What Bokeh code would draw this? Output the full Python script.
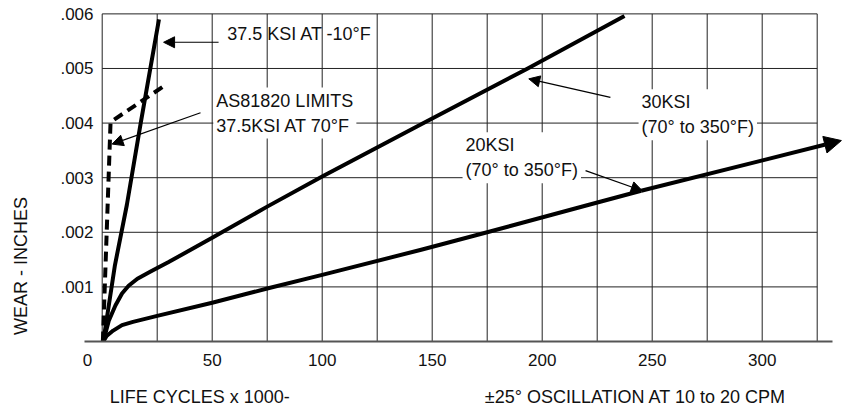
from bokeh.plotting import figure
from bokeh.models import Range1d, FixedTicker, Label, Arrow, NormalHead
from bokeh.embed import file_html
from bokeh.resources import INLINE

# ---------------- data ----------------
# x axis: life cycles x 1000 ; y axis: wear in inches
x_tick_values = [0, 50, 100, 150, 200, 250, 300]
x_tick_labels = ["0", "50", "100", "150", "200", "250", "300"]
y_tick_values = [0.001, 0.002, 0.003, 0.004, 0.005, 0.006]
y_tick_labels = [".001", ".002", ".003", ".004", ".005", ".006"]

grid_x = [0, 25, 50, 75, 100, 125, 150, 175, 200, 225, 250, 275, 300, 325]
grid_y = [0.001, 0.002, 0.003, 0.004, 0.005, 0.006]

# 37.5 KSI AT -10F (steep solid line)
ksi375_cold_x = [0.5, 5.8, 11.2, 17.5, 25.8]
ksi375_cold_y = [0.0, 0.0014, 0.0025, 0.0040, 0.0059]

# AS81820 limits, 37.5 KSI at 70F (dashed)
limits_x = [0.3, 3.8, 27.4]
limits_y = [0.0, 0.00402, 0.00466]

# 30 KSI (70 to 350F)
ksi30_x = [0.5, 3, 6, 9, 12, 16, 22, 30, 50, 75, 100, 145, 193, 237.4]
ksi30_y = [0.0, 0.00038, 0.00066, 0.00088, 0.00102, 0.00115, 0.00128, 0.00145,
           0.0019, 0.00247, 0.00302, 0.00398, 0.00499, 0.00596]

# 20 KSI (70 to 350F) - last point is the arrow tip
ksi20_x = [0.5, 2, 5, 9, 14, 25, 50, 75, 100, 145, 175, 220, 245, 336]
ksi20_y = [0.0, 0.0001, 0.0002, 0.0003, 0.00036, 0.00047, 0.00071, 0.00097,
           0.00122, 0.00168, 0.0020, 0.00249, 0.00276, 0.00368]

y_title = "WEAR - INCHES"
x_title_left = "LIFE CYCLES x 1000-"
x_title_right = "\u00b125\u00b0 OSCILLATION AT 10 to 20 CPM"

FONT = "Liberation Sans"
INK = "#111111"
NBSP = "\u00a0"

p = figure(width=842, height=410,
           x_range=Range1d(-8.5, 336.5), y_range=Range1d(0, 0.006245),
           output_backend="svg", toolbar_location=None,
           min_border_left=83, min_border_right=0, min_border_top=0,
           min_border_bottom=69)
p.outline_line_color = None
p.xgrid.visible = False
p.ygrid.visible = False
p.background_fill_color = "white"
p.border_fill_color = "white"

# ---- axes ----
zero_shift = -6.7   # the "0" label sits left of the origin in the original
x_tick_pos = [zero_shift if v == 0 else v for v in x_tick_values]
p.xaxis.ticker = FixedTicker(ticks=x_tick_pos)
p.xaxis.major_label_overrides = {pos: lab for pos, lab in zip(x_tick_pos, x_tick_labels)}
p.xaxis.bounds = (-8, 332)
p.xaxis.axis_line_color = "#555555"
p.xaxis.axis_line_width = 2
p.xaxis.major_tick_line_color = None
p.xaxis.minor_tick_line_color = None
p.xaxis.major_tick_out = 0
p.xaxis.major_tick_in = 0
p.xaxis.major_label_standoff = 12
p.xaxis.major_label_text_font = FONT
p.xaxis.major_label_text_font_size = "17px"
p.xaxis.major_label_text_color = INK
# two captions under the axis, spaced as in the original
p.xaxis.axis_label = x_title_left + NBSP * 39 + x_title_right + NBSP * 6
p.xaxis.axis_label_standoff = 18
p.xaxis.axis_label_text_font = FONT
p.xaxis.axis_label_text_font_size = "18px"
p.xaxis.axis_label_text_font_style = "normal"
p.xaxis.axis_label_text_color = INK

p.yaxis.ticker = FixedTicker(ticks=y_tick_values)
p.yaxis.major_label_overrides = {v: lab for v, lab in zip(y_tick_values, y_tick_labels)}
p.yaxis.axis_line_color = None
p.yaxis.major_tick_line_color = None
p.yaxis.minor_tick_line_color = None
p.yaxis.major_tick_out = 0
p.yaxis.major_tick_in = 0
p.yaxis.major_label_standoff = -10
p.yaxis.major_label_text_font = FONT
p.yaxis.major_label_text_font_size = "17px"
p.yaxis.major_label_text_color = INK
# the y caption sits low on the axis in the original
p.yaxis.axis_label = y_title + NBSP * 38
p.yaxis.axis_label_standoff = 26
p.yaxis.axis_label_text_font = FONT
p.yaxis.axis_label_text_font_size = "18px"
p.yaxis.axis_label_text_font_style = "normal"
p.yaxis.axis_label_text_color = INK

# ---- grid (bounded box) ----
p.segment(x0=grid_x, y0=[0] * len(grid_x), x1=grid_x, y1=[grid_y[-1]] * len(grid_x),
          line_color="#222222", line_width=1)
p.segment(x0=[grid_x[0]] * len(grid_y), y0=grid_y, x1=[grid_x[-1]] * len(grid_y), y1=grid_y,
          line_color="#222222", line_width=1)

# ---- curves ----
p.line(ksi375_cold_x, ksi375_cold_y, line_color="black", line_width=4, line_join="round")
p.line(limits_x, limits_y, line_color="black", line_width=4, line_dash="10 6")
p.line(ksi30_x, ksi30_y, line_color="black", line_width=4, line_join="round")
p.line(ksi20_x[:-1], ksi20_y[:-1], line_color="black", line_width=4, line_join="round")
p.add_layout(Arrow(end=NormalHead(size=17, fill_color="black", line_color="black"),
                   x_start=ksi20_x[-2], y_start=ksi20_y[-2],
                   x_end=ksi20_x[-1], y_end=ksi20_y[-1],
                   line_color="black", line_width=4))

# ---- callout labels ----
def label(x, y, text, bg=True):
    kw = dict(x=x, y=y, text=text, text_font=FONT, text_font_size="18px",
              text_color=INK, text_align="left", text_baseline="top",
              text_line_height=1.25)
    if bg:
        kw.update(background_fill_color="white", padding=3)
    p.add_layout(Label(**kw))

def callout(x0, y0, x1, y1):
    p.add_layout(Arrow(end=NormalHead(size=11, fill_color="black", line_color="black"),
                       x_start=x0, y_start=y0, x_end=x1, y_end=y1,
                       line_color="black", line_width=1.2))

label(56.8, 0.00581, "37.5 KSI AT -10\u00b0F", bg=False)
callout(52.9, 0.00548, 27.9, 0.00548)

label(50.5, 0.00465, "AS81820 LIMITS\n37.5KSI AT 70\u00b0F")
callout(44.7, 0.00419, 4.5, 0.003615)

label(243.8, 0.00462, "30KSI\n(70\u00b0 to 350\u00b0F)")
callout(231, 0.00447, 193.9, 0.00481)

label(163.8, 0.00383, "20KSI\n(70\u00b0 to 350\u00b0F)")
callout(219.7, 0.00313, 245.5, 0.00276)

open("out.html", "w").write(file_html(p, INLINE))
